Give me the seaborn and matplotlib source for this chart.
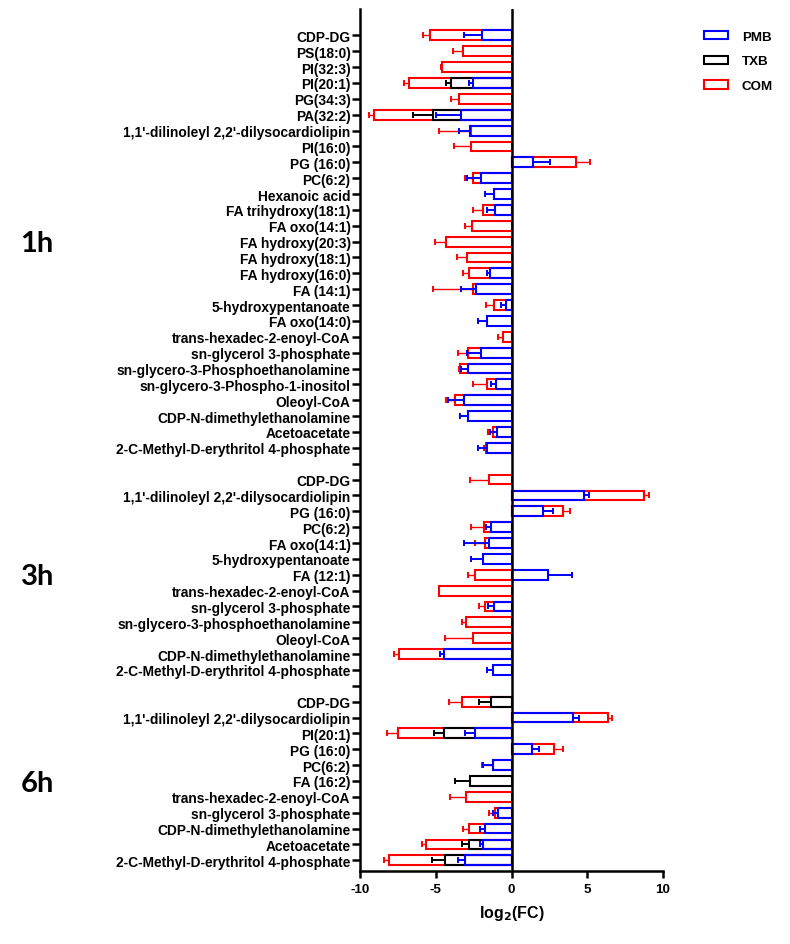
import numpy as np
import pandas as pd
import matplotlib
matplotlib.use("Agg")
import matplotlib.pyplot as plt
from matplotlib.patches import Patch
import seaborn as sns

# categories per time point (top to bottom)
cats_1h = ["CDP-DG", "PS(18:0)", "PI(32:3)", "PI(20:1)", "PG(34:3)", "PA(32:2)",
           "1,1'-dilinoleyl 2,2'-dilysocardiolipin", "PI(16:0)", "PG (16:0)", "PC(6:2)",
           "Hexanoic acid", "FA trihydroxy(18:1)", "FA oxo(14:1)", "FA hydroxy(20:3)",
           "FA hydroxy(18:1)", "FA hydroxy(16:0)", "FA (14:1)", "5-hydroxypentanoate",
           "FA oxo(14:0)", "trans-hexadec-2-enoyl-CoA", "sn-glycerol 3-phosphate",
           "sn-glycero-3-Phosphoethanolamine", "sn-glycero-3-Phospho-1-inositol",
           "Oleoyl-CoA", "CDP-N-dimethylethanolamine", "Acetoacetate",
           "2-C-Methyl-D-erythritol 4-phosphate"]
cats_3h = ["CDP-DG", "1,1'-dilinoleyl 2,2'-dilysocardiolipin", "PG (16:0)", "PC(6:2)",
           "FA oxo(14:1)", "5-hydroxypentanoate", "FA (12:1)", "trans-hexadec-2-enoyl-CoA",
           "sn-glycerol 3-phosphate", "sn-glycero-3-phosphoethanolamine", "Oleoyl-CoA",
           "CDP-N-dimethylethanolamine", "2-C-Methyl-D-erythritol 4-phosphate"]
cats_6h = ["CDP-DG", "1,1'-dilinoleyl 2,2'-dilysocardiolipin", "PI(20:1)", "PG (16:0)",
           "PC(6:2)", "FA (16:2)", "trans-hexadec-2-enoyl-CoA", "sn-glycerol 3-phosphate",
           "CDP-N-dimethylethanolamine", "Acetoacetate", "2-C-Methyl-D-erythritol 4-phosphate"]

N = None
# log2(FC) values and one-sided error lengths
pmb_1h = [-1.95, N, N, -2.53, N, -3.34, -2.75, N, 1.43, -2.02, -1.19, -1.12, N, N, N, -1.41,
          -2.35, -0.37, -1.63, N, -2.02, -2.86, -1.01, -3.17, -2.90, -0.99, -1.63]
pmb_1h_err = [1.22, N, N, 0.26, N, 1.65, 0.75, N, 1.10, 0.95, 0.57, 0.53, N, N, N, 0.24,
              0.99, 0.33, 0.61, N, 0.95, 0.48, 0.35, 1.05, 0.49, 0.44, 0.61]
txb_1h = [N, N, N, -4.00, N, -5.21] + [N] * 21
txb_1h_err = [N, N, N, 0.33, N, 1.32] + [N] * 21
com_1h = [-5.39, -3.19, -4.60, -6.75, -3.45, -9.06, -2.70, -2.68, 4.25, -2.57, N, -1.91, -2.64,
          -4.33, -2.95, -2.79, -2.57, -1.14, N, -0.55, -2.88, -3.41, -1.60, -3.74, N, -1.25, -1.69]
com_1h_err = [0.44, 0.70, 0.06, 0.38, 0.55, 0.33, 2.10, 1.10, 0.92, 0.49, N, 0.66, 0.42,
              0.73, 0.68, 0.40, 2.60, 0.55, N, 0.35, 0.64, 0.05, 0.97, 0.59, N, 0.29, 0.10]

pmb_3h = [N, 4.80, 2.05, -1.34, -1.47, -1.87, 2.38, N, -1.19, N, N, -4.48, -1.25]
pmb_3h_err = [N, 0.30, 0.66, 0.35, 1.70, 0.81, 1.61, N, 0.35, N, N, 0.25, 0.38]
txb_3h = [N] * 13
txb_3h_err = [N] * 13
com_3h = [-1.47, 8.76, 3.39, -1.85, -1.74, N, -2.40, -4.77, -1.74, -3.01, -2.57, -7.41, N]
com_3h_err = [1.28, 0.33, 0.46, 0.83, 0.68, N, 0.46, 0.0, 0.44, 0.27, 1.81, 0.33, N]

pmb_6h = [N, 4.07, -2.40, 1.35, -1.25, N, N, -0.88, -1.74, -1.91, -3.06]
pmb_6h_err = [N, 0.40, 0.70, 0.48, 0.62, N, N, 0.37, 0.33, 0.16, 0.50]
txb_6h = [-1.36, N, -4.44, N, N, -2.73, N, N, N, -2.79, -4.40]
txb_6h_err = [0.77, N, 0.66, N, N, 1.01, N, N, N, 0.51, 0.86]
com_6h = [-3.30, 6.38, -7.52, 2.82, -1.25, N, -3.01, -1.08, -2.79, -5.65, -8.07]
com_6h_err = [0.86, 0.29, 0.73, 0.55, 0.71, N, 1.04, 0.39, 0.44, 0.29, 0.33]

groups = ["1h", "3h", "6h"]
series = ["PMB", "TXB", "COM"]
colors = {"PMB": "#0000ff", "TXB": "#000000", "COM": "#ff0000"}

group_data = {
    "1h": (cats_1h, {"PMB": (pmb_1h, pmb_1h_err), "TXB": (txb_1h, txb_1h_err), "COM": (com_1h, com_1h_err)}),
    "3h": (cats_3h, {"PMB": (pmb_3h, pmb_3h_err), "TXB": (txb_3h, txb_3h_err), "COM": (com_3h, com_3h_err)}),
    "6h": (cats_6h, {"PMB": (pmb_6h, pmb_6h_err), "TXB": (txb_6h, txb_6h_err), "COM": (com_6h, com_6h_err)}),
}

# row order with an empty row between time points
row_order, row_labels = [], []
records = []
for gi, g in enumerate(groups):
    if gi > 0:
        row_order.append(f"gap{gi}")
        row_labels.append("")
    cats, sdict = group_data[g]
    for i, c in enumerate(cats):
        key = f"{g}|{c}"
        row_order.append(key)
        row_labels.append(c)
        for s in series:
            v, e = sdict[s][0][i], sdict[s][1][i]
            if v is not None:
                records.append({"row": key, "series": s, "value": v, "err": e})
df = pd.DataFrame(records)

sns.set_style("ticks")
plt.rcParams["font.family"] = ["Liberation Sans", "DejaVu Sans"]
plt.rcParams["font.weight"] = "bold"
plt.rcParams["axes.unicode_minus"] = False
for k in ["text.color", "axes.labelcolor", "xtick.color", "ytick.color", "axes.edgecolor"]:
    plt.rcParams[k] = "black"

fig = plt.figure(figsize=(7.9, 9.45), dpi=100)
ax = fig.add_axes([0.456, 0.077, 0.383, 0.912])

# draw COM first, PMB on top
for s in ["COM", "TXB", "PMB"]:
    sub = df[df["series"] == s]
    sns.barplot(data=sub, x="value", y="row", order=row_order, orient="h", fill=False,
                color=colors[s], linewidth=1.5, width=0.62, errorbar=None, ax=ax)
    pos = sub["row"].map({k: i for i, k in enumerate(row_order)}).to_numpy()
    vals = sub["value"].to_numpy()
    errs = sub["err"].to_numpy()
    lo = np.where(vals < 0, errs, 0)
    hi = np.where(vals >= 0, errs, 0)
    ax.errorbar(vals, pos, xerr=[lo, hi], fmt="none", ecolor=colors[s],
                elinewidth=1.0 if s == "COM" else 1.4, capsize=2.5, capthick=1.4)

ax.axvline(0, color="black", lw=1.8, zorder=5)
ax.set_xlim(-10, 10)
ax.set_xticks([-10, -5, 0, 5, 10])
ax.set_ylim(len(row_order) - 1 + 0.69, -1.64)
ax.set_yticks(range(len(row_order)))
ax.set_yticklabels(row_labels, fontsize=9.9, fontweight="bold")
ax.tick_params(axis="x", labelsize=9.6, width=1.8, length=5)
ax.tick_params(axis="y", width=1.8, length=5.5, pad=1.5)
for lab in ax.get_xticklabels():
    lab.set_fontweight("bold")
ax.set_ylabel("")
ax.set_xlabel("log$_\\mathbf{2}$(FC)", fontsize=11.5, fontweight="bold", labelpad=6)
sns.despine(ax=ax)
for sp in ["left", "bottom"]:
    ax.spines[sp].set_linewidth(1.8)

# time point labels
start = 0
for gi, g in enumerate(groups):
    n = len(group_data[g][0])
    mid = start + (n - 1) / 2
    ax.annotate(g, xy=(0.026, mid + 0.1), xycoords=("figure fraction", "data"), fontsize=21,
                fontweight="bold", va="center", ha="left", color="black",
                family=["Lato", "DejaVu Sans"])
    start += n + 1

handles = [Patch(facecolor="white", edgecolor=colors[s], linewidth=1.5, label=s) for s in series]
fig.legend(handles=handles, loc="upper left", bbox_to_anchor=(0.885, 0.972), frameon=False,
           prop={"size": 9.6, "weight": "bold"}, handlelength=1.8, handleheight=0.6,
           labelspacing=0.95, handletextpad=1.0, borderaxespad=0)

fig.savefig("out.png", dpi=100)
